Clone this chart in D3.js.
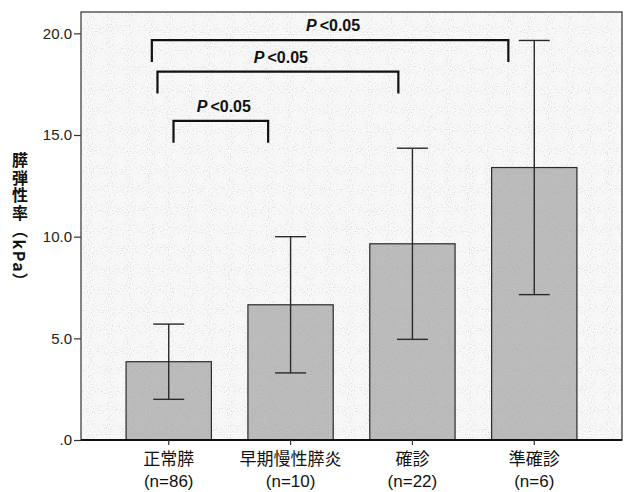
<!DOCTYPE html>
<html>
<head>
<meta charset="utf-8">
<script src="https://cdn.jsdelivr.net/npm/d3@7"></script>
<style>
  html, body { margin: 0; padding: 0; background: #fff; }
  svg { display: block; }
</style>
</head>
<body>
<svg id="chart" width="626" height="492"></svg>
<script>
// ---- data ----
const categories = ["正常膵", "早期慢性膵炎", "確診", "準確診"];
const nLabels = ["(n=86)", "(n=10)", "(n=22)", "(n=6)"];
const means = [3.85, 6.65, 9.65, 13.4];
const errLow = [2.0, 3.3, 4.95, 7.15];
const errHigh = [5.7, 10.0, 14.35, 19.65];
const yTicks = [0, 5, 10, 15, 20];
const yTickLabels = [".0", "5.0", "10.0", "15.0", "20.0"];
const bracketFrom = [0, 0, 0];
const bracketTo = [1, 2, 3];
const bracketLevels = [15.7, 18.12, 19.67];
const bracketLabel = "<0.05";
const yTitle = "膵弾性率（kPa）";

// ---- layout ----
const svg = d3.select("#chart");
const fr = { left: 81, right: 622, top: 12, bottom: 440 };

const x = d3.scaleBand().domain(categories).range([fr.left, fr.right])
  .paddingInner(0.3).paddingOuter(0.37);
const y = d3.scaleLinear().domain([0, 21.05]).range([fr.bottom, fr.top]);

// stipple filters
const defs = svg.append("defs");
function noiseFilter(id, seed, alphaScale, alphaOffset, grey) {
  const f = defs.append("filter").attr("id", id).attr("x", 0).attr("y", 0).attr("width", 1).attr("height", 1);
  f.append("feTurbulence").attr("type", "fractalNoise").attr("baseFrequency", 0.95).attr("numOctaves", 1).attr("seed", seed).attr("result", "n");
  f.append("feColorMatrix").attr("in", "n").attr("type", "matrix")
    .attr("values", `0 0 0 0 ${grey}  0 0 0 0 ${grey}  0 0 0 0 ${grey}  ${alphaScale} 0 0 0 ${alphaOffset}`).attr("result", "dots");
  f.append("feComposite").attr("in", "dots").attr("in2", "SourceGraphic").attr("operator", "atop");
}
noiseFilter("noiseBg", 3, 3, -1.65, 0.6);
noiseFilter("noiseBar", 7, 3, -1.3, 0.45);

// plot background
svg.append("rect")
  .attr("x", fr.left).attr("y", fr.top)
  .attr("width", fr.right - fr.left).attr("height", fr.bottom - fr.top)
  .attr("fill", "#f8f8f8")
  .attr("filter", "url(#noiseBg)");

// bars
svg.append("g").selectAll("rect").data(categories).join("rect")
  .attr("x", d => x(d))
  .attr("y", (d, i) => y(means[i]))
  .attr("width", x.bandwidth())
  .attr("height", (d, i) => y(0) - y(means[i]))
  .attr("fill", "#bdbdbd")
  .attr("filter", "url(#noiseBar)");
svg.append("g").selectAll("rect").data(categories).join("rect")
  .attr("x", d => x(d))
  .attr("y", (d, i) => y(means[i]))
  .attr("width", x.bandwidth())
  .attr("height", (d, i) => y(0) - y(means[i]))
  .attr("fill", "none")
  .attr("stroke", "#2a2a2a")
  .attr("stroke-width", 1.2);

// error bars
const capW = 31;
const eg = svg.append("g").attr("stroke", "#2a2a2a").attr("stroke-width", 1.4).attr("fill", "none");
categories.forEach((c, i) => {
  const cx = x(c) + x.bandwidth() / 2;
  eg.append("line").attr("x1", cx).attr("x2", cx).attr("y1", y(errLow[i])).attr("y2", y(errHigh[i]));
  eg.append("line").attr("x1", cx - capW / 2).attr("x2", cx + capW / 2).attr("y1", y(errLow[i])).attr("y2", y(errLow[i]));
  eg.append("line").attr("x1", cx - capW / 2).attr("x2", cx + capW / 2).attr("y1", y(errHigh[i])).attr("y2", y(errHigh[i]));
});

// frame
svg.append("rect")
  .attr("x", fr.left).attr("y", fr.top)
  .attr("width", fr.right - fr.left).attr("height", fr.bottom - fr.top)
  .attr("fill", "none").attr("stroke", "#333").attr("stroke-width", 1.2);
svg.append("line").attr("x1", fr.left).attr("x2", fr.right).attr("y1", fr.bottom).attr("y2", fr.bottom)
  .attr("stroke", "#111").attr("stroke-width", 1.8);

// y axis
const yAxis = svg.append("g").attr("transform", `translate(${fr.left},0)`)
  .call(d3.axisLeft(y).tickValues(yTicks).tickFormat((d, i) => yTickLabels[i]).tickSize(7).tickSizeOuter(0).tickPadding(2));
yAxis.select(".domain").remove();
yAxis.selectAll("line").attr("stroke", "#333").attr("stroke-width", 1.2);
yAxis.selectAll("text").attr("font-family", "Arial, 'Liberation Sans', sans-serif")
  .attr("font-size", 15).attr("fill", "#222");

// x axis
const xAxis = svg.append("g").attr("transform", `translate(0,${fr.bottom})`)
  .call(d3.axisBottom(x).tickSize(5).tickSizeOuter(0).tickFormat(""));
xAxis.select(".domain").remove();
xAxis.selectAll("line").attr("stroke", "#333").attr("stroke-width", 1.2);
xAxis.selectAll(".tick").each(function(d, i) {
  const g = d3.select(this);
  g.append("text")
    .attr("x", 0).attr("y", 25)
    .attr("text-anchor", "middle").attr("fill", "#111")
    .attr("font-family", "'Noto Sans CJK JP', sans-serif")
    .attr("font-size", 17).text(d);
  g.append("text")
    .attr("x", 0).attr("y", 47)
    .attr("text-anchor", "middle").attr("fill", "#111")
    .attr("font-family", "Arial, 'Liberation Sans', sans-serif")
    .attr("font-size", 17).text(nLabels[i]);
});

// y title (vertical writing)
svg.append("text")
  .attr("x", 20).attr("y", 152)
  .style("writing-mode", "vertical-rl")
  .style("text-orientation", "mixed")
  .attr("font-family", "'Noto Sans CJK JP', sans-serif")
  .attr("font-weight", "bold").attr("font-size", 16)
  .attr("letter-spacing", 1.5)
  .attr("fill", "#111")
  .text(yTitle);

// significance brackets
const fromFrac = [0.556, 0.368, 0.302];
const toFrac = [0.237, 0.335, 0.196];
const legUnits = 1.08;
const bg = svg.append("g");
bracketFrom.forEach((a, k) => {
  const x1 = x(categories[a]) + fromFrac[k] * x.bandwidth();
  const x2 = x(categories[bracketTo[k]]) + toFrac[k] * x.bandwidth();
  const yt = y(bracketLevels[k]);
  const yb = y(bracketLevels[k] - legUnits);
  bg.append("path")
    .attr("d", `M${x1},${yb}V${yt}H${x2}V${yb}`)
    .attr("fill", "none").attr("stroke", "#111").attr("stroke-width", 2.2);
  const t = bg.append("text")
    .attr("x", (x1 + x2) / 2 + 3).attr("y", yt - 9)
    .attr("text-anchor", "middle")
    .attr("font-family", "Arial, 'Liberation Sans', sans-serif")
    .attr("font-size", 16).attr("font-weight", "bold").attr("fill", "#111");
  t.append("tspan").attr("font-style", "italic").text("P");
  t.append("tspan").attr("dx", 3).text(bracketLabel);
});
</script>
</body>
</html>
